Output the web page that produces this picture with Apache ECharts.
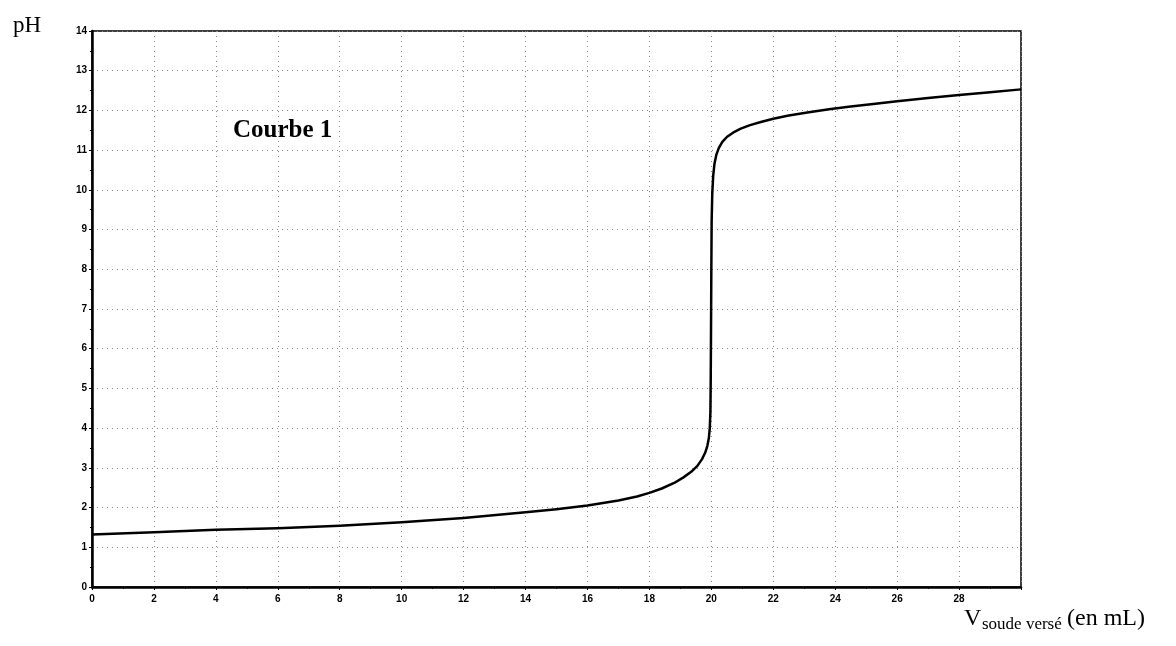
<!DOCTYPE html>
<html>
<head>
<meta charset="utf-8">
<script src="https://cdn.jsdelivr.net/npm/echarts@6/dist/echarts.min.js"></script>
<style>
html,body{margin:0;padding:0;background:#fff;}
#c{width:1176px;height:646px;}
</style>
</head>
<body>
<div id="c"></div>
<script>
const volumes = [0, 2, 4, 6, 8, 10, 12, 14, 15, 16, 17, 17.6, 18, 18.4, 18.8, 19.1, 19.35, 19.55, 19.7, 19.8, 19.87, 19.92, 19.95, 19.97, 19.98, 19.99, 20.0, 20.01, 20.03, 20.06, 20.1, 20.16, 20.24, 20.35, 20.5, 20.7, 20.95, 21.25, 21.6, 22.0, 22.5, 23.1, 23.8, 24.5, 25.3, 26, 27, 28, 29, 30];
const phValues = [1.32, 1.38, 1.44, 1.48, 1.54, 1.63, 1.74, 1.88, 1.96, 2.05, 2.18, 2.28, 2.37, 2.48, 2.62, 2.76, 2.9, 3.05, 3.22, 3.38, 3.55, 3.75, 4.0, 4.4, 5.2, 6.5, 8.0, 9.2, 9.9, 10.35, 10.65, 10.88, 11.05, 11.2, 11.33, 11.44, 11.54, 11.63, 11.71, 11.79, 11.87, 11.95, 12.03, 12.1, 12.17, 12.23, 12.31, 12.39, 12.46, 12.53];
const xTickLabels = ['0','2','4','6','8','10','12','14','16','18','20','22','24','26','28'];
const yTickLabels = ['0','1','2','3','4','5','6','7','8','9','10','11','12','13','14'];

const points = volumes.map((v, i) => [v, phValues[i]]);
const chart = echarts.init(document.getElementById('c'), null, {renderer: 'canvas'});
const gridLine = {show: true, lineStyle: {color: '#8a8a8a', width: 1, type: [1, 4]}};
const tickFont = {fontFamily: 'Liberation Sans, Arial, sans-serif', fontWeight: 'bold', fontSize: 10, color: '#000'};
chart.setOption({
  animation: false,
  backgroundColor: '#fff',
  grid: {left: 92, top: 31, width: 929, height: 556, show: true, borderColor: '#000', borderWidth: 1.5, backgroundColor: 'transparent'},
  xAxis: {
    type: 'value', min: 0, max: 30, interval: 2,
    axisLine: {show: true, onZero: false, lineStyle: {color: '#000', width: 2.5}},
    axisTick: {show: true, length: 3, lineStyle: {color: '#000'}},
    minorTick: {show: true, splitNumber: 2, length: 2, lineStyle: {color: '#000'}},
    splitLine: gridLine,
    axisLabel: Object.assign({margin: 7, formatter: v => xTickLabels.indexOf(String(v)) >= 0 ? String(v) : ''}, tickFont)
  },
  yAxis: {
    type: 'value', min: 0, max: 14, interval: 1,
    axisLine: {show: true, onZero: false, lineStyle: {color: '#000', width: 2.5}},
    axisTick: {show: true, length: 3, lineStyle: {color: '#000'}},
    minorTick: {show: true, splitNumber: 2, length: 2, lineStyle: {color: '#000'}},
    splitLine: gridLine,
    axisLabel: Object.assign({margin: 5, formatter: v => yTickLabels.indexOf(String(v)) >= 0 ? String(v) : ''}, tickFont)
  },
  series: [{
    type: 'line', data: points, showSymbol: false, smooth: false,
    lineStyle: {color: '#000', width: 2.5, join: 'round'}, silent: true
  }],
  graphic: [
    {type: 'text', left: 13, top: 14, style: {text: 'pH', font: '23px "Liberation Serif", "Times New Roman", serif', fill: '#000'}},
    {type: 'text', left: 233, top: 118, style: {text: 'Courbe 1', font: 'bold 25px "Liberation Serif", "Times New Roman", serif', fill: '#000'}},
    {type: 'text', left: 964, top: 607, style: {text: 'V', font: '24px "Liberation Serif", "Times New Roman", serif', fill: '#000'}},
    {type: 'text', left: 982, top: 616, style: {text: 'soude versé', font: '17px "Liberation Serif", "Times New Roman", serif', fill: '#000'}},
    {type: 'text', left: 1067, top: 607, style: {text: '(en mL)', font: '24px "Liberation Serif", "Times New Roman", serif', fill: '#000'}}
  ]
});
</script>
</body>
</html>
